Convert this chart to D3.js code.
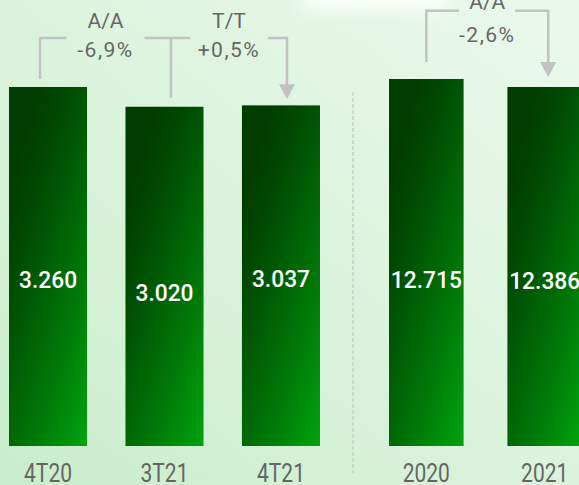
<!DOCTYPE html>
<html>
<head>
<meta charset="utf-8">
<script src="https://cdn.jsdelivr.net/npm/d3@7"></script>
<style>
  html, body { margin: 0; padding: 0; background: #dcf3dd; }
  svg { display: block; }
  text { font-family: Roboto, "Noto Sans", sans-serif; }
</style>
</head>
<body>
<div id="chart"></div>
<script>
// quarterly block
var quarters = ['4T20', '3T21', '4T21'];
var quarterValues = [3260, 3020, 3037];

// yearly block
var years = ['2020', '2021'];
var yearValues = [12715, 12386];

// change call-outs
var changeLabels = ['A/A', 'T/T', 'A/A'];
var changeValues = ['-6,9%', '+0,5%', '-2,6%'];

var W = 579, H = 485, base = 446;

var fmt = d3.formatLocale({decimal: ',', thousands: '.', grouping: [3], currency: ['', '']}).format(',d');

var svg = d3.select('#chart').append('svg')
    .attr('width', W)
    .attr('height', H);

var defs = svg.append('defs');

var bg = defs.append('linearGradient')
    .attr('id', 'bg')
    .attr('x1', 0).attr('y1', 1)
    .attr('x2', 1).attr('y2', 0);
bg.append('stop').attr('offset', 0).attr('stop-color', '#c9edca');
bg.append('stop').attr('offset', 0.55).attr('stop-color', '#ddf4de');
bg.append('stop').attr('offset', 1).attr('stop-color', '#eaf8eb');

var barGrad = defs.append('linearGradient')
    .attr('id', 'bar')
    .attr('x1', 0.3).attr('y1', 0.05)
    .attr('x2', 1).attr('y2', 1);
barGrad.append('stop').attr('offset', 0).attr('stop-color', '#003d00');
barGrad.append('stop').attr('offset', 0.2).attr('stop-color', '#004a02');
barGrad.append('stop').attr('offset', 0.65).attr('stop-color', '#007808');
barGrad.append('stop').attr('offset', 1).attr('stop-color', '#00a40e');

var blur = defs.append('filter').attr('id', 'blur')
    .attr('x', '-50%').attr('y', '-50%').attr('width', '200%').attr('height', '200%');
blur.append('feGaussianBlur').attr('stdDeviation', 8);

svg.append('rect')
    .attr('width', W).attr('height', H)
    .attr('fill', 'url(#bg)');

// soft white glow at the top (card shadow in the original)
svg.append('rect')
    .attr('x', 300).attr('y', -30)
    .attr('width', 150).attr('height', 42)
    .attr('rx', 12)
    .attr('fill', '#ffffff')
    .attr('opacity', 0.75)
    .attr('filter', 'url(#blur)');

// scales
var xQ = d3.scaleBand().domain(quarters).range([9, 320]).paddingInner(0.33);
var yQ = d3.scaleLinear().domain([-1100, 3260]).range([base, 87]);

var xY = d3.scaleBand().domain(years).range([389, 582]).paddingInner(0.37);
var yY = d3.scaleLinear().domain([-2400, 12715]).range([base, 79]);

var labelShift = [0, 4, -10, 4, 2];

function drawBars(cats, vals, x, y, offset) {
	var g = svg.append('g');

	g.selectAll('rect.bar')
	    .data(vals)
	  .enter().append('rect')
	    .attr('class', 'bar')
	    .attr('x', function(d, i) { return x(cats[i]); })
	    .attr('y', function(d) { return y(d); })
	    .attr('width', x.bandwidth())
	    .attr('height', function(d) { return base - y(d); })
	    .attr('fill', 'url(#bar)');

	g.selectAll('text.val')
	    .data(vals)
	  .enter().append('text')
	    .attr('class', 'val')
	    .attr('text-anchor', 'middle')
	    .attr('transform', function(d, i) {
			var cx = x(cats[i]) + x.bandwidth() / 2,
				cy = (y(d) + base) / 2 + 21 + labelShift[offset + i];
			return 'translate(' + cx + ',' + cy + ')scale(0.95,1)';
		})
	    .attr('fill', '#ffffff')
	    .attr('font-size', 24)
	    .attr('font-weight', 500)
	    .text(function(d) { return fmt(d); });

	g.selectAll('text.cat')
	    .data(cats)
	  .enter().append('text')
	    .attr('class', 'cat')
	    .attr('text-anchor', 'middle')
	    .attr('transform', function(d) {
			return 'translate(' + (x(d) + x.bandwidth() / 2) + ',' + 482 + ')scale(0.84,1)';
		})
	    .attr('fill', '#646464')
	    .attr('font-size', 25)
	    .text(function(d) { return d; });
}

drawBars(quarters, quarterValues, xQ, yQ, 0);
drawBars(years, yearValues, xY, yY, 3);

// dashed divider between the two blocks
svg.append('line')
    .attr('x1', 353).attr('x2', 353)
    .attr('y1', 92).attr('y2', 473)
    .attr('stroke', '#c9cfc9')
    .attr('stroke-width', 1.5)
    .attr('stroke-dasharray', '4,2');

// call-outs
var ann = svg.append('g')
    .attr('fill', 'none')
    .attr('stroke', '#c2c2c2')
    .attr('stroke-width', 2.5);

function cx(x, c) { return x(c) + x.bandwidth() / 2; }

function arrowHead(xTip, yTip) {
	svg.append('path')
	    .attr('d', 'M' + (xTip - 8) + ',' + (yTip - 15) + 'L' + (xTip + 8) + ',' + (yTip - 15) + 'L' + xTip + ',' + yTip + 'Z')
	    .attr('fill', '#c2c2c2');
}

function callText(xc, yTop, yBottom, i) {
	svg.append('text')
	    .attr('x', xc).attr('y', yTop)
	    .attr('text-anchor', 'middle')
	    .attr('fill', '#666666')
	    .attr('font-size', 21)
	    .text(changeLabels[i]);
	svg.append('text')
	    .attr('x', xc).attr('y', yBottom)
	    .attr('text-anchor', 'middle')
	    .attr('fill', '#666666')
	    .attr('font-size', 21)
	    .attr('letter-spacing', 1.5)
	    .text(changeValues[i]);
}

// left block
var lineY = 38, gap = 39;
var a0 = cx(xQ, quarters[0]) - 8,
	a1 = cx(xQ, quarters[1]) + 6.5,
	a2 = cx(xQ, quarters[2]) + 6,
	m1 = (a0 + a1) / 2,
	m2 = (a1 + a2) / 2;

ann.append('path')
    .attr('d', 'M' + a0 + ',' + (yQ(quarterValues[0]) - 8) + 'V' + lineY + 'H' + (m1 - gap));
ann.append('path')
    .attr('d', 'M' + (m1 + gap) + ',' + lineY + 'H' + (m2 - gap) +
		'M' + a1 + ',' + lineY + 'V' + (yQ(quarterValues[1]) - 9));
ann.append('path')
    .attr('d', 'M' + (m2 + gap) + ',' + lineY + 'H' + a2 + 'V' + (yQ(quarterValues[2]) - 18));
arrowHead(a2, yQ(quarterValues[2]) - 6);

callText(m1, 28, 57, 0);
callText(m2, 28, 57, 1);

// right block
var lineY2 = 10.7, gap2 = 28;
var b0 = cx(xY, years[0]),
	b1 = cx(xY, years[1]) + 3.5,
	m3 = (b0 + b1) / 2;

ann.append('path')
    .attr('d', 'M' + b0 + ',' + (yY(yearValues[0]) - 17) + 'V' + lineY2 + 'H' + (m3 - gap2) +
		'M' + (m3 + gap2) + ',' + lineY2 + 'H' + b1 + 'V' + (yY(yearValues[1]) - 22));
arrowHead(b1, yY(yearValues[1]) - 10);

callText(m3, 9, 42, 2);
</script>
</body>
</html>
